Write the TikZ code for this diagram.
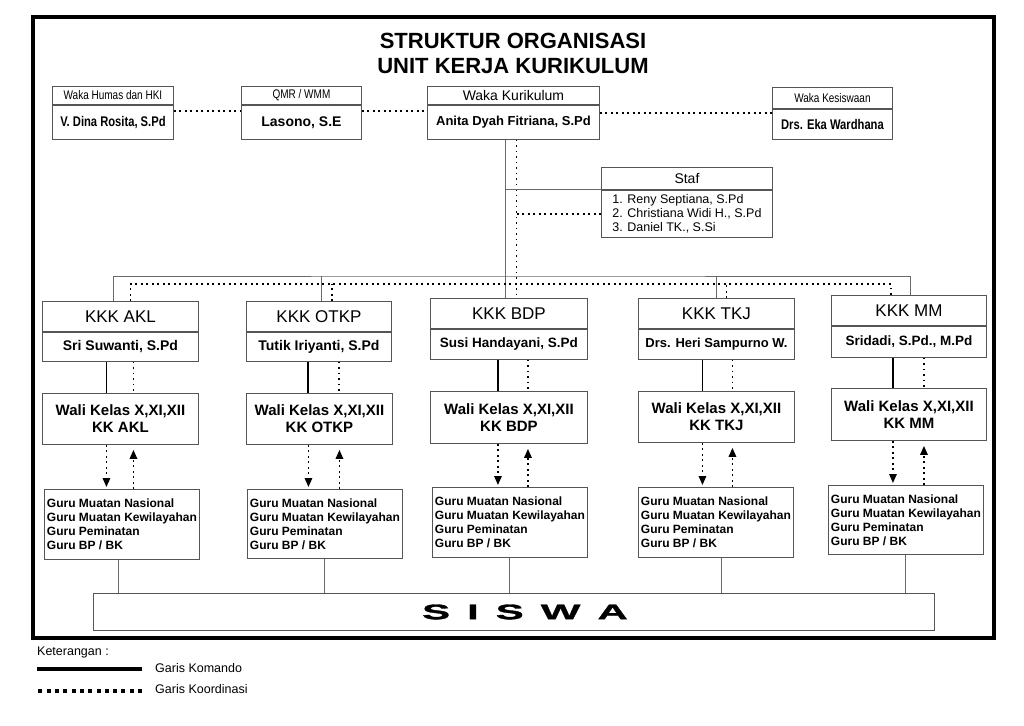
\documentclass[tikz,border=0pt]{standalone}
\usepackage{fontspec}
\setmainfont{Liberation Sans}
\newfontfamily\narrowfont[FakeStretch=0.8]{Liberation Sans}
\newfontfamily\siswafont[FakeStretch=2.0,FakeBold=1.5]{Liberation Sans}
\usepackage{tikz}
\usetikzlibrary{arrows.meta}
\definecolor{boxgray}{RGB}{85,85,85}
\definecolor{linegray}{RGB}{105,105,105}
\tikzstyle{box} = [draw=boxgray, line width=0.9pt, fill=white, anchor=north west, inner sep=0pt]
\tikzstyle{jabatan} = [box, font=\narrowfont\fontsize{12.5}{14}\selectfont]
\tikzstyle{nama} = [box, font=\narrowfont\bfseries\fontsize{14}{16}\selectfont]
\tikzstyle{kkk} = [box, font=\fontsize{17}{19}\selectfont]
\tikzstyle{ketua} = [box, font=\bfseries\fontsize{14}{16}\selectfont]
\tikzstyle{wali} = [box, align=center, font=\bfseries\fontsize{15}{17}\selectfont]
\tikzstyle{guru} = [box, align=left, font=\bfseries\fontsize{12}{14}\selectfont]
\tikzstyle{garis} = [draw=linegray, line width=1pt]
\tikzstyle{komando} = [line width=1.8pt]
\tikzstyle{koord} = [line width=1.6pt, dash pattern=on 1.6pt off 3.9pt]
\tikzstyle{koarrow} = [koord, -{Triangle[length=9pt,width=7.5pt]}]

\begin{document}
\begin{tikzpicture}[x=1pt, y=-1pt]
\useasboundingbox (0,0) rectangle (1024,725);
\draw[line width=4pt] (33,17) rectangle (994,638);
\node[align=center, font=\bfseries\fontsize{22}{25}\selectfont] (title) at (513,53) {STRUKTUR ORGANISASI\\UNIT KERJA KURIKULUM};

% pimpinan
\node[jabatan, minimum width=121pt, minimum height=18pt] (humasH) at (52,86) {Waka Humas dan HKI};
\node[nama, minimum width=121pt, minimum height=34pt] (humasN) at (humasH.south west) {V. Dina Rosita, S.Pd};
\node[jabatan, minimum width=120pt, minimum height=18pt] (qmrH) at (241,86) {QMR / WMM};
\node[ketua, minimum width=120pt, minimum height=34pt] (qmrN) at (qmrH.south west) {Lasono, S.E};
\node[box, font=\fontsize{14}{16}\selectfont, minimum width=172pt, minimum height=18pt] (kurH) at (427,86) {Waka Kurikulum};
\node[ketua, font=\bfseries\fontsize{13}{15}\selectfont, minimum width=172pt, minimum height=34pt] (kurN) at (kurH.south west) {Anita Dyah Fitriana, S.Pd};
\node[jabatan, minimum width=120pt, minimum height=21pt] (kesH) at (772,87) {Waka Kesiswaan};
\node[nama, minimum width=120pt, minimum height=30pt] (kesN) at (kesH.south west) {Drs. Eka Wardhana};
\draw[koord] ([yshift=-6pt]humasN.north east) -- ([yshift=-6pt]humasN.north east -| qmrN.west);
\draw[koord] ([yshift=-6pt]qmrN.north east) -- ([yshift=-6pt]qmrN.north east -| kurN.west);
\draw[koord] ([yshift=-8pt]kurN.north east) -- ([yshift=-8pt]kurN.north east -| kesN.west);

% staf
\node[box, font=\fontsize{14}{16}\selectfont, minimum width=171pt, minimum height=22pt] (stafH) at (601,167) {Staf};
\node[box, align=left, font=\fontsize{12.5}{13.7}\selectfont, minimum width=171pt, minimum height=47pt] (stafL) at (stafH.south west) {1. Reny Septiana, S.Pd\\2. Christiana Widi H., S.Pd\\3. Daniel TK., S.Si};

% kkk
\node[kkk, minimum width=156pt, minimum height=30pt] (aklH) at (42,301) {KKK AKL};
\node[ketua, minimum width=156pt, minimum height=29pt] (aklN) at (aklH.south west) {Sri Suwanti, S.Pd};
\node[kkk, minimum width=145pt, minimum height=30pt] (otkpH) at (246,301) {KKK OTKP};
\node[ketua, minimum width=145pt, minimum height=29pt] (otkpN) at (otkpH.south west) {Tutik Iriyanti, S.Pd};
\node[kkk, minimum width=157pt, minimum height=30pt] (bdpH) at (430,298) {KKK BDP};
\node[ketua, font=\bfseries\fontsize{13.5}{15}\selectfont, minimum width=157pt, minimum height=30pt] (bdpN) at (bdpH.south west) {Susi Handayani, S.Pd};
\node[kkk, minimum width=156pt, minimum height=30pt] (tkjH) at (638,298) {KKK TKJ};
\node[ketua, font=\bfseries\fontsize{13}{15}\selectfont, minimum width=156pt, minimum height=30pt] (tkjN) at (tkjH.south west) {Drs. Heri Sampurno W.};
\node[kkk, minimum width=155pt, minimum height=30pt] (mmH) at (831,295) {KKK MM};
\node[ketua, font=\bfseries\fontsize{13.5}{15}\selectfont, minimum width=155pt, minimum height=31pt] (mmN) at (mmH.south west) {Sridadi, S.Pd., M.Pd};

% wali kelas
\node[wali, minimum width=156pt, minimum height=51pt] (aklW) at (42,393) {Wali Kelas X,XI,XII\\KK AKL};
\node[wali, minimum width=146pt, minimum height=51pt] (otkpW) at (246,393) {Wali Kelas X,XI,XII\\KK OTKP};
\node[wali, minimum width=157pt, minimum height=52pt] (bdpW) at (430,391) {Wali Kelas X,XI,XII\\KK BDP};
\node[wali, minimum width=156pt, minimum height=51pt] (tkjW) at (638,391) {Wali Kelas X,XI,XII\\KK TKJ};
\node[wali, minimum width=155pt, minimum height=52pt] (mmW) at (831,388) {Wali Kelas X,XI,XII\\KK MM};

% guru
\node[guru, minimum width=155pt, minimum height=70pt] (aklG) at (44,489) {Guru Muatan Nasional\\Guru Muatan Kewilayahan\\Guru Peminatan\\Guru BP / BK};
\node[guru, minimum width=155pt, minimum height=69pt] (otkpG) at (247,489) {Guru Muatan Nasional\\Guru Muatan Kewilayahan\\Guru Peminatan\\Guru BP / BK};
\node[guru, minimum width=155pt, minimum height=70pt] (bdpG) at (432,487) {Guru Muatan Nasional\\Guru Muatan Kewilayahan\\Guru Peminatan\\Guru BP / BK};
\node[guru, minimum width=155pt, minimum height=70pt] (tkjG) at (638,487) {Guru Muatan Nasional\\Guru Muatan Kewilayahan\\Guru Peminatan\\Guru BP / BK};
\node[guru, minimum width=155pt, minimum height=69pt] (mmG) at (828,485) {Guru Muatan Nasional\\Guru Muatan Kewilayahan\\Guru Peminatan\\Guru BP / BK};

% siswa
\node[box, minimum width=841pt, minimum height=37pt, font=\siswafont\bfseries\fontsize{21}{21}\selectfont] (siswa) at (93,593) {\hspace*{22pt}S\hspace{17pt}I\hspace{17pt}S\hspace{17pt}W\hspace{17pt}A};

% garis dari waka kurikulum
\coordinate (trunk) at ([xshift=-8pt]kurN.south);
\coordinate (dtrunk) at ([xshift=3pt]kurN.south);
\coordinate (bus) at (505,276);
\coordinate (dbus) at (516,284);
\draw[garis] (trunk) -- (trunk |- bdpH.north);
\draw[koord] (dtrunk) -- (dtrunk |- bdpH.north);
\draw[garis] (stafH.south west) -- (stafH.south west -| trunk);
\draw[koord] (stafL.west) -- (stafL.west -| dtrunk);
\draw[garis] ([xshift=-7pt]aklH.north) |- (bus) -| ([xshift=2pt]mmH.north);
\draw[garis] ([xshift=3pt]otkpH.north) -- ([xshift=3pt]otkpH.north |- bus);
\draw[garis] (tkjH.north) -- (tkjH.north |- bus);
\draw[koord] ([xshift=10pt]aklH.north) |- (dbus) -| ([xshift=-18pt]mmH.north);
\draw[koord] ([xshift=13pt]otkpH.north) -- ([xshift=13pt]otkpH.north |- dbus);
\draw[koord] ([xshift=10pt]tkjH.north) -- ([xshift=10pt]tkjH.north |- dbus);

% kkk ke wali kelas ke guru
\draw[komando] ([xshift=-14pt]aklN.south) -- ([xshift=-14pt]aklN.south |- aklW.north);
\draw[koord] ([xshift=13pt]aklN.south) -- ([xshift=13pt]aklN.south |- aklW.north);
\draw[koarrow, shorten >=2pt] ([xshift=-14pt]aklW.south) -- ([xshift=-14pt]aklW.south |- aklG.north);
\draw[koarrow, shorten >=5pt] ([xshift=13pt]aklW.south |- aklG.north) -- ([xshift=13pt]aklW.south);
\draw[komando] ([xshift=-11pt]otkpN.south) -- ([xshift=-11pt]otkpN.south |- otkpW.north);
\draw[koord] ([xshift=20pt]otkpN.south) -- ([xshift=20pt]otkpN.south |- otkpW.north);
\draw[koarrow, shorten >=2pt] ([xshift=-11pt]otkpW.south) -- ([xshift=-11pt]otkpW.south |- otkpG.north);
\draw[koarrow, shorten >=5pt] ([xshift=20pt]otkpW.south |- otkpG.north) -- ([xshift=20pt]otkpW.south);
\draw[komando] ([xshift=-11pt]bdpN.south) -- ([xshift=-11pt]bdpN.south |- bdpW.north);
\draw[koord] ([xshift=19pt]bdpN.south) -- ([xshift=19pt]bdpN.south |- bdpW.north);
\draw[koarrow, shorten >=2pt] ([xshift=-11pt]bdpW.south) -- ([xshift=-11pt]bdpW.south |- bdpG.north);
\draw[koarrow, shorten >=5pt] ([xshift=19pt]bdpW.south |- bdpG.north) -- ([xshift=19pt]bdpW.south);
\draw[komando] ([xshift=-14pt]tkjN.south) -- ([xshift=-14pt]tkjN.south |- tkjW.north);
\draw[koord] ([xshift=16pt]tkjN.south) -- ([xshift=16pt]tkjN.south |- tkjW.north);
\draw[koarrow, shorten >=2pt] ([xshift=-14pt]tkjW.south) -- ([xshift=-14pt]tkjW.south |- tkjG.north);
\draw[koarrow, shorten >=5pt] ([xshift=16pt]tkjW.south |- tkjG.north) -- ([xshift=16pt]tkjW.south);
\draw[komando] ([xshift=-16pt]mmN.south) -- ([xshift=-16pt]mmN.south |- mmW.north);
\draw[koord] ([xshift=15pt]mmN.south) -- ([xshift=15pt]mmN.south |- mmW.north);
\draw[koarrow, shorten >=2pt] ([xshift=-16pt]mmW.south) -- ([xshift=-16pt]mmW.south |- mmG.north);
\draw[koarrow, shorten >=5pt] ([xshift=15pt]mmW.south |- mmG.north) -- ([xshift=15pt]mmW.south);

% guru ke siswa
\draw[garis] ([xshift=-3pt]aklG.south) -- ([xshift=-3pt]aklG.south |- siswa.north);
\draw[garis] (otkpG.south) -- (otkpG.south |- siswa.north);
\draw[garis] (bdpG.south) -- (bdpG.south |- siswa.north);
\draw[garis] ([xshift=6pt]tkjG.south) -- ([xshift=6pt]tkjG.south |- siswa.north);
\draw[garis] (mmG.south) -- (mmG.south |- siswa.north);

% keterangan
\node[anchor=west, inner sep=0pt, font=\fontsize{12.5}{14}\selectfont] (ket) at (37,652) {Keterangan :};
\node[anchor=west, inner sep=0pt, font=\fontsize{12.5}{14}\selectfont] (kom) at (155,668) {Garis Komando};
\node[anchor=west, inner sep=0pt, font=\fontsize{12.5}{14}\selectfont] (koo) at (155,689) {Garis Koordinasi};
\draw[line width=4pt] ([xshift=-13pt,yshift=-1pt]kom.west) -- ++(-105,0);
\draw[line width=4pt, dash pattern=on 4pt off 4.3pt] ([xshift=-13pt,yshift=-2pt]koo.west) -- ++(-105,0);
\end{tikzpicture}
\end{document}
